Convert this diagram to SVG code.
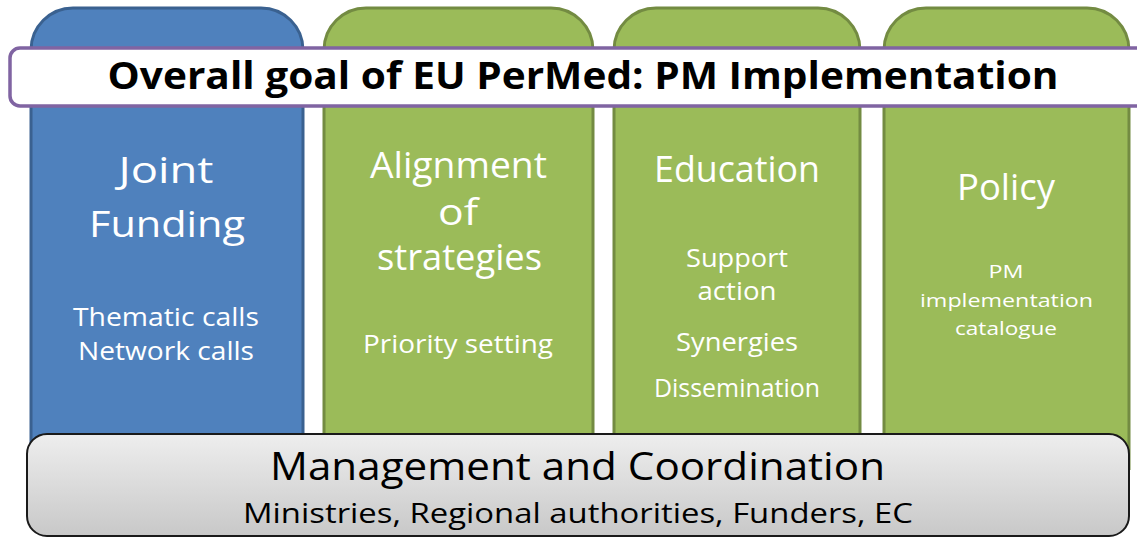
<svg xmlns="http://www.w3.org/2000/svg" width="1137" height="538" viewBox="0 0 1137 538">
<defs>
<linearGradient id="gGray" x1="0" y1="0" x2="0" y2="1">
<stop offset="0" stop-color="#EEEEEE"/>
<stop offset="1" stop-color="#C8C8C8"/>
</linearGradient>
<style>
.blue{fill:#4F81BD;stroke:#3A6190;stroke-width:3}
.green{fill:#9BBB59;stroke:#738B42;stroke-width:3}
.t{font-family:"Open Sans","Noto Sans","DejaVu Sans",sans-serif;text-anchor:middle}
.w{fill:#FFFFFF}
.big{font-size:36px}
.mid{font-size:26px}
.sml{font-size:19px}
.title{font-size:38px;font-weight:bold;fill:#000000}
.mg{font-size:38px;fill:#000000}
.mn{font-size:28px;fill:#000000}
</style>
</defs>
<rect width="1137" height="538" fill="#FFFFFF"/>
<g id="connectors"/>
<g id="joint-funding">
<path class="blue" d="M31,470 V50 A42,42 0 0 1 73,8 H261 A42,42 0 0 1 303,50 V470"/>
<text class="t w big" x="166" y="183" textLength="95" lengthAdjust="spacingAndGlyphs">Joint</text>
<text class="t w big" x="167" y="237" textLength="156" lengthAdjust="spacingAndGlyphs">Funding</text>
<text class="t w mid" x="166" y="326" textLength="186" lengthAdjust="spacingAndGlyphs">Thematic calls</text>
<text class="t w mid" x="166" y="360" textLength="176" lengthAdjust="spacingAndGlyphs">Network calls</text>
</g>
<g id="alignment">
<path class="green" d="M324,470 V50 A42,42 0 0 1 366,8 H551 A42,42 0 0 1 593,50 V470"/>
<text class="t w big" x="458.5" y="178" textLength="177" lengthAdjust="spacingAndGlyphs">Alignment</text>
<text class="t w big" x="458" y="225" textLength="40" lengthAdjust="spacingAndGlyphs">of</text>
<text class="t w big" x="459.5" y="270" textLength="165" lengthAdjust="spacingAndGlyphs">strategies</text>
<text class="t w mid" x="458" y="353" textLength="190" lengthAdjust="spacingAndGlyphs">Priority setting</text>
</g>
<g id="education">
<path class="green" d="M614,470 V50 A42,42 0 0 1 656,8 H818 A42,42 0 0 1 860,50 V470"/>
<text class="t w big" x="737" y="182" textLength="166" lengthAdjust="spacingAndGlyphs">Education</text>
<text class="t w mid" x="737" y="267" textLength="102" lengthAdjust="spacingAndGlyphs">Support</text>
<text class="t w mid" x="737" y="300" textLength="79" lengthAdjust="spacingAndGlyphs">action</text>
<text class="t w mid" x="737" y="351" textLength="122" lengthAdjust="spacingAndGlyphs">Synergies</text>
<text class="t w mid" x="737" y="397" textLength="166" lengthAdjust="spacingAndGlyphs">Dissemination</text>
</g>
<g id="policy">
<path class="green" d="M884,470 V50 A42,42 0 0 1 926,8 H1087 A42,42 0 0 1 1129,50 V470"/>
<text class="t w big" x="1006" y="200" textLength="98" lengthAdjust="spacingAndGlyphs">Policy</text>
<text class="t w sml" x="1006" y="278" textLength="35" lengthAdjust="spacingAndGlyphs">PM</text>
<text class="t w sml" x="1006.5" y="307" textLength="173" lengthAdjust="spacingAndGlyphs">implementation</text>
<text class="t w sml" x="1006" y="335" textLength="102" lengthAdjust="spacingAndGlyphs">catalogue</text>
</g>
<g id="overall-goal">
<rect x="10" y="48" width="1150" height="58" rx="10" ry="10" fill="#FFFFFF" stroke="#8064A2" stroke-width="3.5"/>
<text class="t title" x="583" y="89" textLength="951" lengthAdjust="spacingAndGlyphs">Overall goal of EU PerMed: PM Implementation</text>
</g>
<g id="management">
<rect x="27" y="434" width="1102" height="102" rx="20" ry="20" fill="url(#gGray)" stroke="#1A1A1A" stroke-width="2"/>
<text class="t mg" x="577.5" y="480" textLength="615" lengthAdjust="spacingAndGlyphs">Management and Coordination</text>
<text class="t mn" x="578" y="523" textLength="670" lengthAdjust="spacingAndGlyphs">Ministries, Regional authorities, Funders, EC</text>
</g>
</svg>
